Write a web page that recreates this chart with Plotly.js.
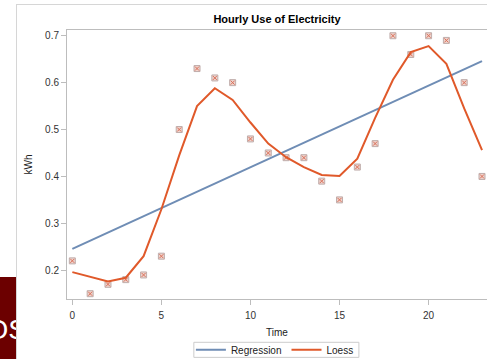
<!DOCTYPE html>
<html>
<head>
<meta charset="utf-8">
<script src="https://cdn.plot.ly/plotly-3.0.1.min.js"></script>
<style>
  html, body { margin: 0; padding: 0; background: #ffffff; width: 487px; height: 359px; overflow: hidden; }
  #badge { position: absolute; left: 0; top: 277px; width: 16px; height: 82px; background: #6c0000; overflow: hidden; }
  #badge span { position: absolute; right: -11px; top: 39px; color: #ffffff; font-family: "Liberation Sans", Arial, sans-serif; font-size: 28px; line-height: 28px; white-space: nowrap; }
  #chart { position: absolute; left: 16px; top: 4px; width: 470px; height: 354px; border-left: 1px solid #d6d6d6; border-top: 1px solid #d6d6d6; background: #ffffff; }
</style>
</head>
<body>
<div id="badge"><span>OS</span></div>
<div id="chart"></div>
<script>
// Data
const hours = [0, 1, 2, 3, 4, 5, 6, 7, 8, 9, 10, 11, 12, 13, 14, 15, 16, 17, 18, 19, 20, 21, 22, 23];
const kwh = [0.22, 0.15, 0.17, 0.18, 0.19, 0.23, 0.50, 0.63, 0.61, 0.60, 0.48, 0.45,
             0.44, 0.44, 0.39, 0.35, 0.42, 0.47, 0.70, 0.66, 0.70, 0.69, 0.60, 0.40];
const loessFit = [0.196, 0.186, 0.176, 0.184, 0.230, 0.330, 0.445, 0.550, 0.588, 0.563, 0.515, 0.470,
                  0.441, 0.420, 0.403, 0.401, 0.438, 0.525, 0.606, 0.665, 0.678, 0.640, 0.545, 0.456];
const regHours = [0, 23];
const regFit = [0.2455, 0.646];
const xTickVals = [0, 5, 10, 15, 20];
const yTickVals = [0.2, 0.3, 0.4, 0.5, 0.6, 0.7];
const yTickText = ['0.2', '0.3', '0.4', '0.5', '0.6', '0.7'];

const FONT = '"Liberation Sans", Arial, sans-serif';

const traces = [
  {
    x: hours, y: kwh, type: 'scatter', mode: 'markers', showlegend: false, hoverinfo: 'skip',
    marker: { symbol: 'square', size: 6, color: '#efd3cc', line: { color: '#bfadab', width: 1 } }
  },
  {
    x: hours, y: kwh, type: 'scatter', mode: 'markers', showlegend: false, hoverinfo: 'skip',
    marker: { symbol: 'x-thin', size: 4, color: '#d9705a', line: { color: '#d9705a', width: 1 } }
  },
  {
    x: regHours, y: regFit, type: 'scatter', mode: 'lines', name: 'Regression',
    line: { color: '#6f8db5', width: 2 }
  },
  {
    x: hours, y: loessFit, type: 'scatter', mode: 'lines', name: 'Loess',
    line: { color: '#e0592a', width: 2 }
  }
];

const layout = {
  width: 470, height: 354,
  margin: { l: 50, r: 0, t: 25, b: 60, pad: 0, autoexpand: false },
  paper_bgcolor: '#ffffff', plot_bgcolor: '#ffffff',
  font: { family: FONT, size: 10, color: '#333333' },
  title: {
    text: '<b>Hourly Use of Electricity</b>',
    font: { family: FONT, size: 11, color: '#000000' },
    x: 0.5 + 25 / 470, xref: 'container', xanchor: 'center',
    y: 1 - 14 / 354, yref: 'container', yanchor: 'middle'
  },
  xaxis: {
    range: [-0.3, 23.28], tickmode: 'array', tickvals: xTickVals,
    ticks: 'outside', ticklen: 5, tickcolor: '#bdbdbd', tickwidth: 1,
    ticklabelstandoff: 2,
    showline: true, linecolor: '#bdbdbd', linewidth: 1, mirror: true,
    showgrid: false, zeroline: false, automargin: false,
    tickfont: { family: FONT, size: 10, color: '#333333' },
    title: { text: 'Time', font: { family: FONT, size: 10, color: '#222222' }, standoff: 8 }
  },
  yaxis: {
    range: [0.1387, 0.7122], tickmode: 'array', tickvals: yTickVals, ticktext: yTickText,
    ticks: 'outside', ticklen: 5, tickcolor: '#bdbdbd', tickwidth: 1,
    showline: true, linecolor: '#bdbdbd', linewidth: 1, mirror: true,
    showgrid: false, zeroline: false, automargin: false,
    tickfont: { family: FONT, size: 10, color: '#333333' },
    title: { text: 'kWh', font: { family: FONT, size: 10, color: '#222222' }, standoff: 10 }
  },
  legend: {
    orientation: 'h', x: 0.495, xanchor: 'center', y: -0.135, yanchor: 'top',
    borderwidth: 0, bgcolor: 'rgba(0,0,0,0)',
    font: { family: FONT, size: 10, color: '#222222' },
    itemwidth: 30, tracegroupgap: 0
  },
  shapes: [{
    type: 'rect', xref: 'paper', yref: 'paper', layer: 'below',
    x0: 0.302, x1: 0.695, y0: -0.161, y1: -0.217,
    line: { color: '#cccccc', width: 1 }, fillcolor: 'rgba(0,0,0,0)'
  }],
  showlegend: true
};

Plotly.newPlot('chart', traces, layout, { staticPlot: true, displayModeBar: false });
</script>
</body>
</html>
